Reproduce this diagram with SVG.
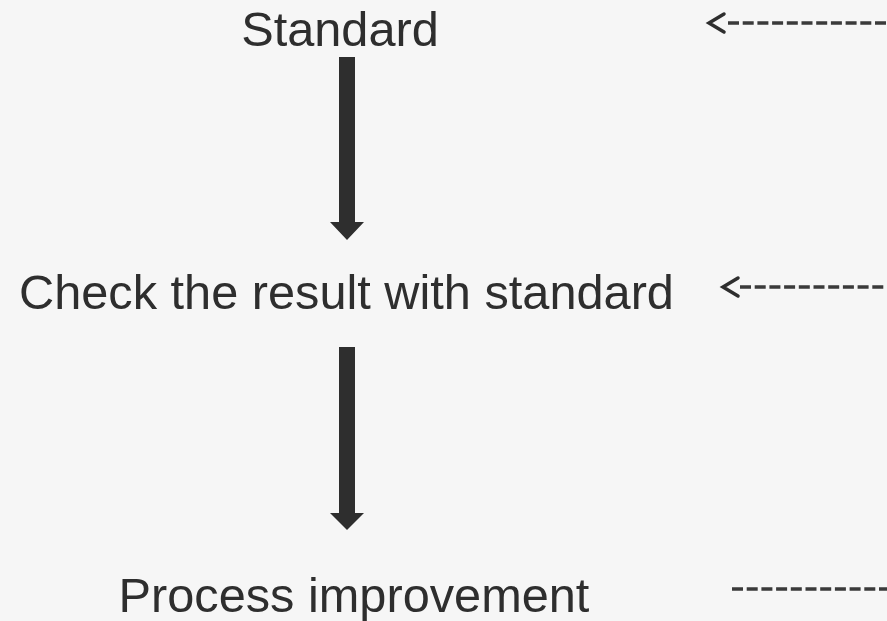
<svg xmlns="http://www.w3.org/2000/svg" width="887" height="621" viewBox="0 0 887 621">
<style>
.lbl{font-family:"Liberation Sans",Arial,sans-serif;font-size:48.7px;fill:#2e2e2e;text-anchor:middle}
.dash{stroke:#3a3a3a;stroke-width:3.5;stroke-dasharray:11 3.7;fill:none}
.chev{stroke:#2e2e2e;stroke-width:3.5;fill:none;stroke-linecap:round;stroke-linejoin:miter}
.big{fill:#2e2e2e}
</style>
<rect width="887" height="621" fill="#f6f6f6"/>
<g id="node-standard"><text class="lbl" x="340" y="46">Standard</text></g>
<g id="node-check"><text class="lbl" x="346.5" y="309">Check the result with standard</text></g>
<g id="node-process"><text class="lbl" x="354" y="612">Process improvement</text></g>
<g id="connectors">
<polygon class="big" points="339,57 355,57 355,222 364,222 347,240 330,222 339,222"/>
<polygon class="big" points="339,347 355,347 355,513 364,513 347,530 330,513 339,513"/>
<line class="dash" x1="728" y1="23" x2="887" y2="23"/>
<polyline class="chev" points="724,14 709,23 724,32"/>
<line class="dash" x1="740" y1="287" x2="887" y2="287"/>
<polyline class="chev" points="738,278 723,287 738,296"/>
<line class="dash" x1="732" y1="589" x2="887" y2="589"/>
</g>
</svg>
